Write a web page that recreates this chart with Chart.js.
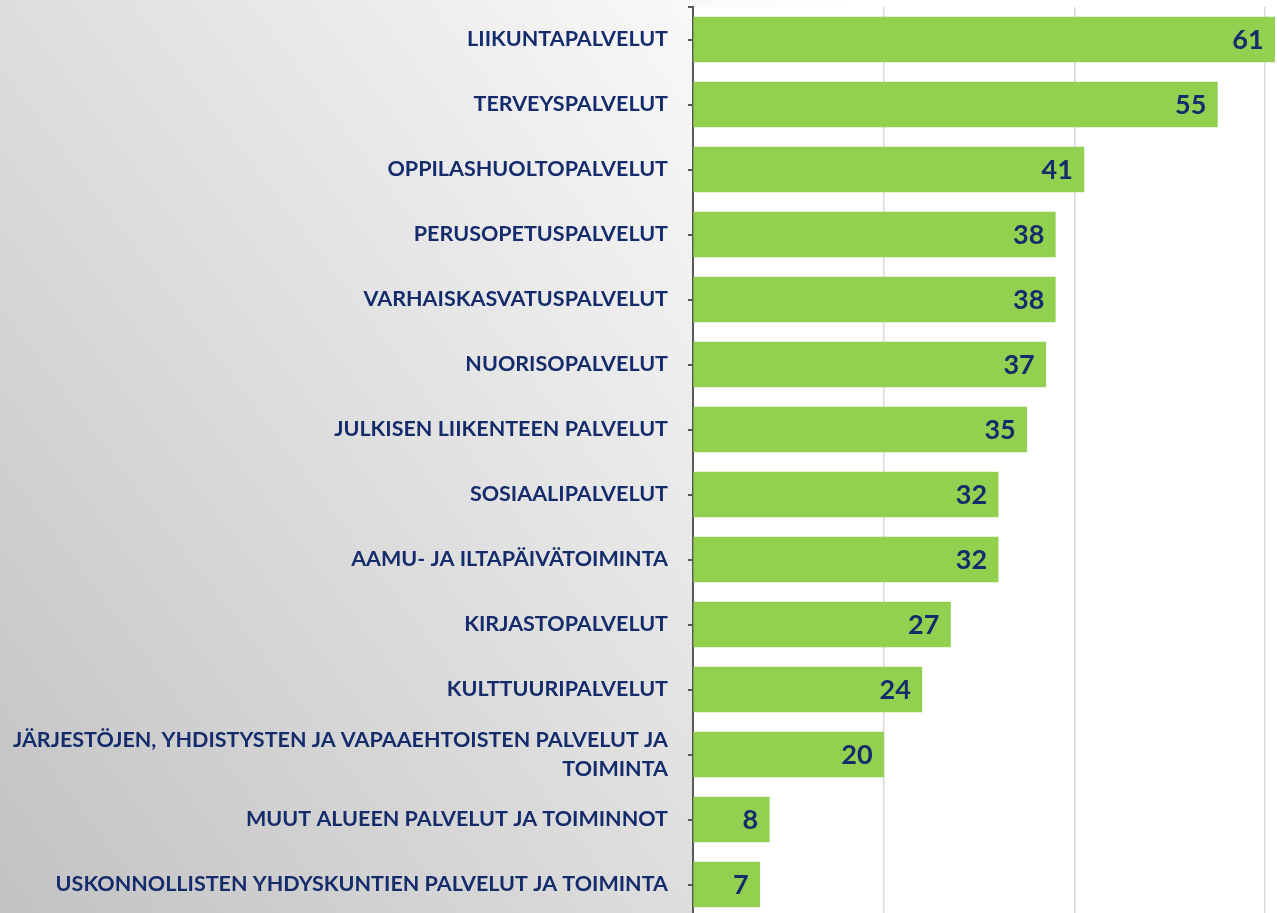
<!DOCTYPE html>
<html>
<head>
<meta charset="utf-8">
<script src="https://cdn.jsdelivr.net/npm/chart.js@4.4.1/dist/chart.umd.min.js"></script>
<style>
  html, body { margin: 0; padding: 0; overflow: hidden; width: 1277px; height: 913px; }
  #wrap { width: 1277px; height: 917px; position: relative; }
</style>
</head>
<body>
<div id="wrap"><canvas id="c"></canvas></div>
<script>
const categories = [
  "LIIKUNTAPALVELUT",
  "TERVEYSPALVELUT",
  "OPPILASHUOLTOPALVELUT",
  "PERUSOPETUSPALVELUT",
  "VARHAISKASVATUSPALVELUT",
  "NUORISOPALVELUT",
  "JULKISEN LIIKENTEEN PALVELUT",
  "SOSIAALIPALVELUT",
  "AAMU- JA ILTAPÄIVÄTOIMINTA",
  "KIRJASTOPALVELUT",
  "KULTTUURIPALVELUT",
  ["JÄRJESTÖJEN, YHDISTYSTEN JA VAPAAEHTOISTEN PALVELUT JA", "TOIMINTA"],
  "MUUT ALUEEN PALVELUT JA TOIMINNOT",
  "USKONNOLLISTEN YHDYSKUNTIEN PALVELUT JA TOIMINTA"
];
const values = [61, 55, 41, 38, 38, 37, 35, 32, 32, 27, 24, 20, 8, 7];
const gridTicks = [0, 20, 40, 60];

const NAVY = '#142b6c';
const GREEN = '#92D050';
const FONT = 'Lato, "Open Sans", sans-serif';

const bgPlugin = {
  id: 'bg',
  beforeDraw(chart) {
    const ctx = chart.ctx;
    const w = chart.width, h = chart.height;
    ctx.save();
    const g = ctx.createLinearGradient(0, 913, 982, 176);
    g.addColorStop(0, 'rgb(194,194,194)');
    g.addColorStop(1, 'rgb(255,255,255)');
    ctx.fillStyle = g;
    ctx.fillRect(0, 0, w, h);
    const a = chart.chartArea;
    ctx.fillStyle = '#ffffff';
    ctx.fillRect(a.left, a.top, w - a.left, h - a.top);
    ctx.restore();
  },
  afterDraw(chart) {
    const ctx = chart.ctx;
    const a = chart.chartArea;
    ctx.save();
    ctx.strokeStyle = '#595959';
    ctx.lineWidth = 2;
    ctx.beginPath();
    ctx.moveTo(a.left - 5, a.top);
    ctx.lineTo(a.left + 1, a.top);
    ctx.stroke();
    const meta = chart.getDatasetMeta(0);
    ctx.fillStyle = NAVY;
    ctx.font = 'bold 27px ' + FONT;
    ctx.textAlign = 'right';
    ctx.textBaseline = 'middle';
    meta.data.forEach((bar, i) => {
      ctx.fillText(String(values[i]), bar.x - 11, bar.y + 1);
    });
    ctx.restore();
  }
};

new Chart(document.getElementById('c'), {
  type: 'bar',
  data: {
    labels: categories,
    datasets: [{
      data: values,
      backgroundColor: GREEN,
      borderWidth: 0,
      barThickness: 45
    }]
  },
  options: {
    indexAxis: 'y',
    responsive: true,
    maintainAspectRatio: false,
    animation: false,
    layout: { padding: { top: 7, right: 0, bottom: 0, left: 0 } },
    plugins: { legend: { display: false }, tooltip: { enabled: false } },
    scales: {
      x: {
        min: 0,
        max: 61.25,
        afterBuildTicks(scale) { scale.ticks = gridTicks.map(v => ({ value: v })); },
        afterFit(scale) { scale.height = 0; scale.paddingLeft = 0; scale.paddingRight = 0; },
        ticks: { display: false },
        border: { display: false },
        grid: {
          drawTicks: false,
          color: ctx => (ctx.tick && ctx.tick.value === 0) ? 'rgba(0,0,0,0)' : '#d9d9d9',
          lineWidth: 1.5
        }
      },
      y: {
        afterFit(scale) { scale.width = 693; scale.paddingTop = 0; scale.paddingBottom = 0; },
        border: { display: true, color: '#595959', width: 2 },
        grid: {
          display: true,
          drawOnChartArea: false,
          drawTicks: true,
          tickLength: 5,
          offset: false,
          color: '#595959',
          lineWidth: 2
        },
        ticks: {
          color: NAVY,
          padding: 20,
          font: { family: FONT, weight: 'bold', size: 21.5, lineHeight: 1.35 }
        }
      }
    }
  },
  plugins: [bgPlugin]
});
</script>
</body>
</html>
